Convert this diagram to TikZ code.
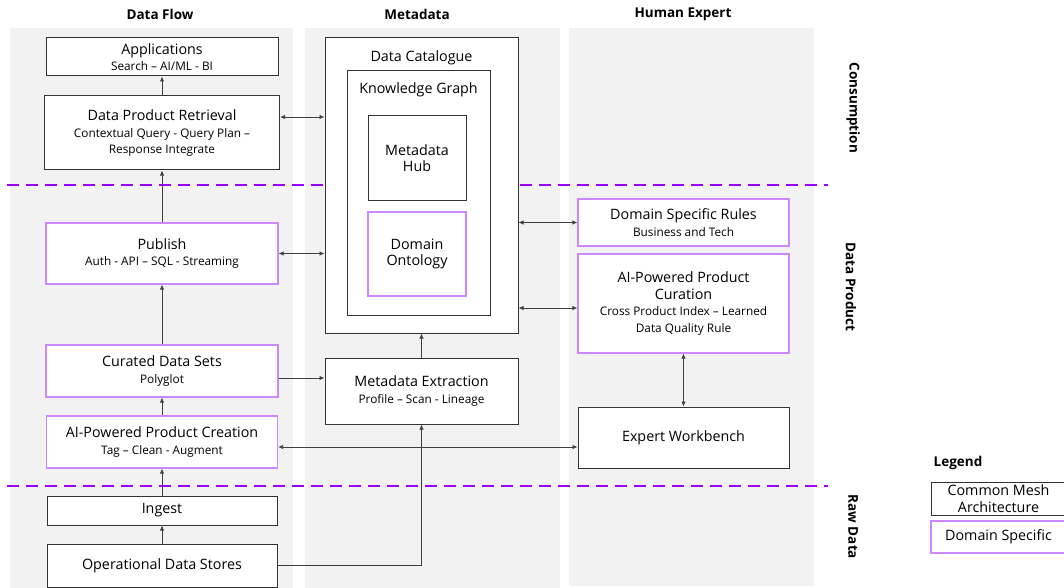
\documentclass[tikz,border=0pt]{standalone}
\usepackage{fontspec}
\setmainfont{Open Sans}
\usetikzlibrary{arrows.meta}
\definecolor{panelgray}{HTML}{F2F2F2}
\definecolor{meshline}{HTML}{333333}
\definecolor{domline}{HTML}{CC88FF}
\definecolor{layerline}{HTML}{9B00FF}
\newcommand{\subtxt}[1]{{\fontsize{11.8}{14}\selectfont #1}}

\begin{document}
\begin{tikzpicture}[x=1pt, y=-1pt,
		box/.style={draw=meshline, line width=1pt, fill=white, align=center, inner sep=2pt, font=\fontsize{14.3}{16.5}\selectfont},
		dom/.style={box, draw=domline, line width=1.2pt},
		head/.style={font=\fontsize{13.5}{15}\selectfont\bfseries},
		layer/.style={layerline, line width=2.8pt, dash pattern=on 12pt off 7pt},
		arr/.style={-{Latex[length=5pt,width=4.5pt]}, black!75, line width=0.8pt},
		darr/.style={{Latex[length=5pt,width=4.5pt]}-{Latex[length=5pt,width=4.5pt]}, black!75, line width=0.8pt}]
	\useasboundingbox (0,0) rectangle (1064,588);
	% columns
	\fill[panelgray] (10,28) rectangle (293,588);
	\fill[panelgray] (305,28) rectangle (560,588);
	\fill[panelgray] (569,28) rectangle (814,586);
	\node[head] at (160,14) (hflow) {Data Flow};
	\node[head] at (417,14) (hmeta) {Metadata};
	\node[head] at (683,14) (hexp) {Human Expert};
	% layers
	\draw[layer] (7,185) -- (828,185);
	\draw[layer] (7,486) -- (828,486);
	\node[head, rotate=-90] at (853,108) (lcons) {Consumption};
	\node[head, rotate=-90] at (851,287) (lprod) {Data Product};
	\node[head, rotate=-90] at (853,527) (lraw) {Raw Data};
	% data flow
	\node[box, minimum width=232pt, minimum height=38pt] at (162,57) (app) {Applications\\\subtxt{Search -- AI/ML - BI}};
	\node[box, minimum width=235pt, minimum height=74pt] at (162,133) (dpr) {Data Product Retrieval\\\subtxt{Contextual Query - Query Plan --}\\\subtxt{Response Integrate}};
	\node[dom, minimum width=232pt, minimum height=61pt] at (162,253.5) (pub) {Publish\\\subtxt{Auth - API -- SQL - Streaming}};
	\node[dom, minimum width=232pt, minimum height=52pt] at (162,371) (cur) {Curated Data Sets\\\subtxt{Polyglot}};
	\node[dom, minimum width=231pt, minimum height=52pt] at (162,442) (aic) {AI-Powered Product Creation\\\subtxt{Tag -- Clean - Augment}};
	\node[box, minimum width=230pt, minimum height=29pt] at (162,510.5) (ing) {Ingest};
	\node[box, minimum width=230pt, minimum height=43pt] at (162,565.5) (ods) {Operational Data Stores};
	% metadata
	\node[box, minimum width=193pt, minimum height=295pt, label={[anchor=north, yshift=-10pt, font=\fontsize{14.3}{16.5}\selectfont]north:Data Catalogue}] at (421.5,185.5) (cat) {};
	\node[box, minimum width=143pt, minimum height=244pt, label={[anchor=north, yshift=-9pt, font=\fontsize{14.3}{16.5}\selectfont]north:Knowledge Graph}] at (418.5,193) (kg) {};
	\node[box, minimum width=98pt, minimum height=84pt] at (417,158) (hub) {Metadata\\Hub};
	\node[dom, minimum width=98pt, minimum height=84pt] at (417,254) (ont) {Domain\\Ontology};
	\node[box, minimum width=193pt, minimum height=66pt] at (421.5,391) (mex) {Metadata Extraction\\\subtxt{Profile -- Scan - Lineage}};
	% human expert
	\node[dom, minimum width=211pt, minimum height=47pt] at (683.5,222.5) (dsr) {Domain Specific Rules\\\subtxt{Business and Tech}};
	\node[dom, minimum width=211pt, minimum height=99pt] at (683.5,303.5) (cura) {AI-Powered Product\\Curation\\\subtxt{Cross Product Index -- Learned}\\\subtxt{Data Quality Rule}};
	\node[box, minimum width=211pt, minimum height=61pt] at (683.5,437.5) (wb) {Expert Workbench};
	% legend
	\node[head] at (958,463) (leg) {Legend};
	\node[box, minimum width=135pt, minimum height=33pt] at (998.5,498.5) (lmesh) {Common Mesh\\Architecture};
	\node[dom, minimum width=135pt, minimum height=32pt] at (998.5,537) (ldom) {Domain Specific};
	% connectors
	\draw[arr] (dpr) -- (app);
	\draw[arr] (pub) -- (dpr);
	\draw[arr] (cur) -- (pub);
	\draw[arr] (aic) -- (cur);
	\draw[arr] (ing) -- (aic);
	\draw[arr] (ods) -- (ing);
	\draw[darr] (dpr.east |- 0,117) -- (cat.west |- 0,117);
	\draw[darr] (pub.east) -- (pub.east -| cat.west);
	\draw[darr] (cat.east |- dsr.west) -- (dsr.west);
	\draw[darr] (cat.east |- 0,308) -- (cura.west |- 0,308);
	\draw[arr] (cur.east |- 0,378) -- (mex.west |- 0,378);
	\draw[arr] (mex) -- (cat);
	\draw[darr] (wb) -- (cura);
	\draw[darr] (aic.east |- 0,447) -- (wb.west |- 0,447);
	\draw[arr] (ods.east) -| (mex.south);
\end{tikzpicture}
\end{document}
